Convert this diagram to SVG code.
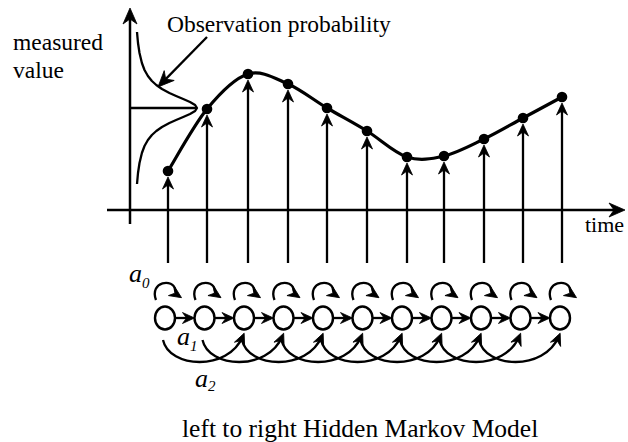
<svg xmlns="http://www.w3.org/2000/svg" width="628" height="442" viewBox="0 0 628 442">
<style>
.ln{fill:none;stroke:#000;stroke-width:2.3}
.ax{fill:none;stroke:#000;stroke-width:2.5}
.cv{fill:none;stroke:#000;stroke-width:3.2;stroke-linejoin:round}
.st{fill:#fff;stroke:#000;stroke-width:2.4}
.t{font-family:"Liberation Serif","Times New Roman",serif;fill:#000}
.it{font-family:"Liberation Serif","Times New Roman",serif;font-style:italic;fill:#000}
</style>
<defs>
<marker id="ms" markerUnits="userSpaceOnUse" viewBox="-11 -7 16 14" markerWidth="16" markerHeight="14" refX="0" refY="0" orient="auto" overflow="visible">
<path d="M3,0 L-9,-5.5 L-5,0 L-9,5.5 Z" fill="#000" stroke="#000" stroke-width="0.8" stroke-linejoin="round"/>
</marker>
<marker id="mb" markerUnits="userSpaceOnUse" viewBox="-14 -8 20 16" markerWidth="20" markerHeight="16" refX="0" refY="0" orient="auto" overflow="visible">
<path d="M4,0 L-12,-7 L-7,0 L-12,7 Z" fill="#000" stroke="#000" stroke-width="0.8" stroke-linejoin="round"/>
</marker>
</defs>
<rect width="628" height="442" fill="#fff"/>

<g id="axes">
<path class="ax" d="M130,224 L130,12" marker-end="url(#mb)"/>
<path class="ax" d="M107,210 L621,210" marker-end="url(#mb)"/>
<text class="t" x="585" y="232" font-size="22">time</text>
<text class="t" x="13" y="50" font-size="23.5">measured</text>
<text class="t" x="13" y="78" font-size="23.5">value</text>
</g>

<g id="observation">
<path class="ln" d="M130,108 L197,108"/>
<path class="ln" d="M137,32 L138,43 L139.5,53 L141.9,63 L144.5,70 L147.9,76 L151.9,81 L156.3,85 L162,89 L169.4,93 L176.1,96 L183.2,99 L190,102 L195.1,105 L197,108 L195.1,111 L190,114 L183.2,117 L176.1,120 L169.4,123 L162,127 L156.3,131 L151.9,135 L147.9,140 L144.5,146 L141.9,153 L139.5,163 L138,173 L137,184" stroke-linejoin="round"/>
<path class="ln" d="M207,37 L160.8,84.1" marker-end="url(#mb)"/>
<text class="t" x="167" y="32" font-size="23.5">Observation probability</text>
</g>

<g id="signal">
<path class="cv" d="M168,171 C174.5,160.7 193.7,125.2 207,109 C220.3,92.8 234.5,78.2 248,74 C261.5,69.8 274.8,78.3 288,84 C301.2,89.7 313.8,100.2 327,108 C340.2,115.8 353.7,122.8 367,131 C380.3,139.2 394.2,152.8 407,157 C419.8,161.2 431.2,159 444,156 C456.8,153 470.8,145.3 484,139 C497.2,132.7 510,125 523,118 C536,111 555.5,100.5 562,97"/>
<g fill="#000">
<circle cx="168" cy="171" r="5.3"/><circle cx="207" cy="109" r="5.3"/><circle cx="248" cy="74" r="5.3"/><circle cx="288" cy="84" r="5.3"/><circle cx="327" cy="108" r="5.3"/><circle cx="367" cy="131" r="5.3"/><circle cx="407" cy="157" r="5.3"/><circle cx="444" cy="156" r="5.3"/><circle cx="484" cy="139" r="5.3"/><circle cx="523" cy="118" r="5.3"/><circle cx="562" cy="97" r="5.3"/>
</g>
</g>

<g id="connectors">
<g class="ln" marker-end="url(#ms)">
<path d="M168,263 L168,180"/><path d="M207,263 L207,118"/><path d="M248,263 L248,83"/><path d="M288,263 L288,93"/><path d="M327,263 L327,117"/><path d="M367,263 L367,140"/><path d="M407,263 L407,166"/><path d="M444,263 L444,165"/><path d="M484,263 L484,148"/><path d="M523,263 L523,127"/><path d="M562,263 L562,106"/>
</g>
<g class="ln" marker-end="url(#ms)">
<path d="M156,300 C149,281 174,278 175,290 Q176,294 179,296"/>
<path d="M195.5,300 C188.5,281 213.5,278 214.5,290 Q215.5,294 218.5,296"/>
<path d="M235,300 C228,281 253,278 254,290 Q255,294 258,296"/>
<path d="M274.5,300 C267.5,281 292.5,278 293.5,290 Q294.5,294 297.5,296"/>
<path d="M314,300 C307,281 332,278 333,290 Q334,294 337,296"/>
<path d="M353.5,300 C346.5,281 371.5,278 372.5,290 Q373.5,294 376.5,296"/>
<path d="M393,300 C386,281 411,278 412,290 Q413,294 416,296"/>
<path d="M432.5,300 C425.5,281 450.5,278 451.5,290 Q452.5,294 455.5,296"/>
<path d="M472,300 C465,281 490,278 491,290 Q492,294 495,296"/>
<path d="M511.5,300 C504.5,281 529.5,278 530.5,290 Q531.5,294 534.5,296"/>
<path d="M551,300 C544,281 569,278 570,290 Q571,294 574,296"/>
</g>
<g class="ln" marker-end="url(#ms)">
<path d="M171,318 L191.5,318"/><path d="M210.5,318 L231,318"/><path d="M250,318 L270.5,318"/><path d="M289.5,318 L310,318"/><path d="M329,318 L349.5,318"/><path d="M368.5,318 L389,318"/><path d="M408,318 L428.5,318"/><path d="M447.5,318 L468,318"/><path d="M487,318 L507.5,318"/><path d="M526.5,318 L547,318"/>
</g>
<g class="ln" marker-end="url(#ms)">
<path d="M163,340 C169,368 228,372 243,336"/>
<path d="M202.5,340 C208.5,368 267.5,372 282.5,336"/>
<path d="M242,340 C248,368 307,372 322,336"/>
<path d="M281.5,340 C287.5,368 346.5,372 361.5,336"/>
<path d="M321,340 C327,368 386,372 401,336"/>
<path d="M360.5,340 C366.5,368 425.5,372 440.5,336"/>
<path d="M400,340 C406,368 465,372 480,336"/>
<path d="M439.5,340 C445.5,368 504.5,372 519.5,336"/>
<path d="M479,340 C485,368 544,372 559,336"/>
</g>
</g>

<g id="states">
<g id="s0"><ellipse class="st" cx="165" cy="318" rx="10" ry="11.5"/></g>
<g id="s1"><ellipse class="st" cx="204.5" cy="318" rx="10" ry="11.5"/></g>
<g id="s2"><ellipse class="st" cx="244" cy="318" rx="10" ry="11.5"/></g>
<g id="s3"><ellipse class="st" cx="283.5" cy="318" rx="10" ry="11.5"/></g>
<g id="s4"><ellipse class="st" cx="323" cy="318" rx="10" ry="11.5"/></g>
<g id="s5"><ellipse class="st" cx="362.5" cy="318" rx="10" ry="11.5"/></g>
<g id="s6"><ellipse class="st" cx="402" cy="318" rx="10" ry="11.5"/></g>
<g id="s7"><ellipse class="st" cx="441.5" cy="318" rx="10" ry="11.5"/></g>
<g id="s8"><ellipse class="st" cx="481" cy="318" rx="10" ry="11.5"/></g>
<g id="s9"><ellipse class="st" cx="520.5" cy="318" rx="10" ry="11.5"/></g>
<g id="s10"><ellipse class="st" cx="560" cy="318" rx="10" ry="11.5"/></g>
</g>

<g id="labels">
<text class="it" x="129" y="282" font-size="26">a<tspan font-size="15" dy="6">0</tspan></text>
<text class="it" x="177" y="345" font-size="26">a<tspan font-size="15" dy="6">1</tspan></text>
<text class="it" x="195" y="387" font-size="26">a<tspan font-size="15" dy="4">2</tspan></text>
<text class="t" x="182" y="437" font-size="25.5">left to right Hidden Markov Model</text>
</g>
</svg>
